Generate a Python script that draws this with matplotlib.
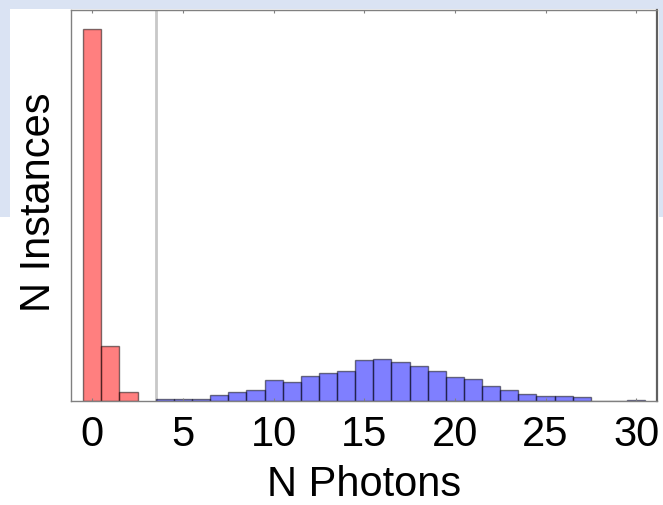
import numpy as np
import matplotlib
matplotlib.use("Agg")
import matplotlib.pyplot as plt
from matplotlib.patches import Rectangle

plt.rcParams['font.family'] = ['Liberation Sans', 'DejaVu Sans']

# red histogram (few photons)
red_n = [0, 1, 2]
red_counts = [1000, 148, 23]

# blue histogram (many photons)
blue_n = list(range(4, 31))
blue_counts = [6, 6, 5, 17, 24, 29, 57, 50, 67, 75, 82, 109, 114, 104,
               95, 82, 64, 60, 40, 30, 19, 13, 14, 11, 1, 1, 3]

threshold = 3.5
xticks = [0, 5, 10, 15, 20, 25, 30]

fig = plt.figure(figsize=(6.63, 5.05), dpi=100)
fig.patch.set_facecolor('white')

# slide background behind the chart
fig.add_artist(Rectangle((0, 0.570), 1, 0.43, transform=fig.transFigure,
                         facecolor='#dae3f3', edgecolor='none', zorder=-10))
fig.add_artist(Rectangle((0.0151, 0), 0.979, 0.982, transform=fig.transFigure,
                         facecolor='white', edgecolor='none', zorder=-9))

ax = fig.add_axes([0.1075, 0.2059, 0.883, 0.7737])

ax.bar(red_n, red_counts, width=1.0, color=(1, 0, 0, 0.5),
       edgecolor=(0, 0, 0, 0.5), linewidth=1.0)
ax.bar(blue_n, blue_counts, width=1.0, color=(0, 0, 1, 0.5),
       edgecolor=(0, 0, 0, 0.5), linewidth=1.0)
ax.axvline(threshold, color='#c8c8c8', linewidth=2, zorder=0)

ax.set_xlim(-1.16, 31.13)
ax.set_xticks(xticks)
ax.set_yticks([])
ax.tick_params(axis='x', direction='in', top=True, length=2, color='#808080',
               labelsize=30, pad=10)

for s in ax.spines.values():
    s.set_color('#808080')
    s.set_linewidth(1)
ax.spines['right'].set_color('#606060')
ax.spines['right'].set_linewidth(1.6)

ax.set_xlabel('N Photons', fontsize=30, labelpad=7)
ax.set_ylabel('N Instances', fontsize=30)
ax.yaxis.set_label_coords(-0.021, 0.508)

fig.savefig('out.png', dpi=100)
